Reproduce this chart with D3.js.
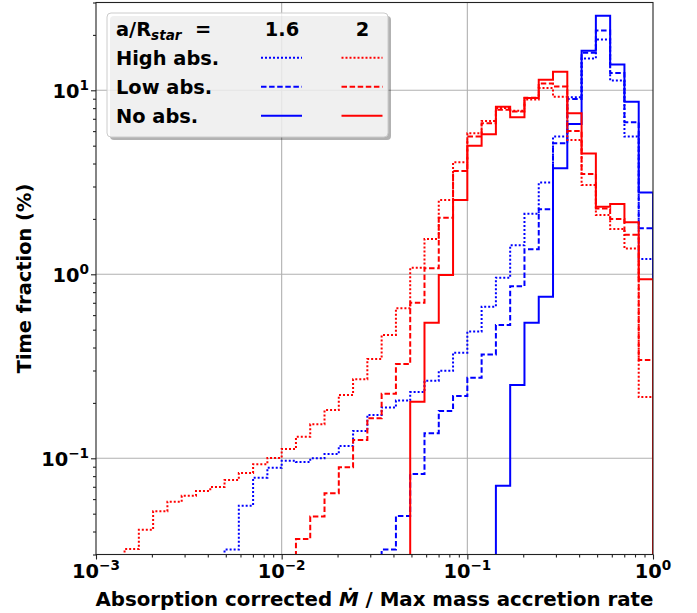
<!DOCTYPE html>
<html>
<head>
<meta charset="utf-8">
<script src="https://cdn.jsdelivr.net/npm/d3@7"></script>
<style>
body { margin: 0; background: #fff; }
svg { display: block; font-family: "DejaVu Sans", sans-serif; font-weight: bold; }
</style>
</head>
<body>
<div id="chart"></div>
<script>
// histogram bins: 40 log-spaced edges between 1e-3 and 1 (39 bins)
let binCount = 39;
let binEdges = d3.range(binCount + 1).map(i => Math.pow(10, -3 + 3 * i / binCount));

// a/R_star = 1.6 (blue), values in % per bin, starting at bin index *Start
let blueHighStart = 9;
let blueHigh = [0.0319, 0.0553, 0.0785, 0.0889, 0.097, 0.0955, 0.100, 0.1055, 0.1166, 0.1407,
	0.172, 0.189, 0.206, 0.229, 0.264, 0.299, 0.375, 0.488, 0.667, 0.958,
	1.44, 2.13, 3.15, 5.60, 9.16, 14.9, 18.9, 11.3, 5.60, 1.21];
let blueLowStart = 20;
let blueLow = [0.0319, 0.0486, 0.0822, 0.1368, 0.181, 0.218, 0.274, 0.367, 0.530, 0.86,
	1.37, 2.26, 5.15, 8.97, 16.0, 21.1, 12.4, 6.70, 1.78];
let blueNoStart = 28;
let blueNo = [0.071, 0.250, 0.546, 0.756, 3.77, 6.56, 16.4, 25.4, 13.8, 8.67, 2.78];

// a/R_star = 2 (red)
let redHighStart = 2;
let redHigh = [0.0321, 0.0409, 0.0515, 0.0581, 0.0626, 0.0665, 0.0699, 0.0762, 0.0832, 0.0928,
	0.1004, 0.1124, 0.131, 0.153, 0.183, 0.221, 0.269, 0.346, 0.468, 0.653,
	1.086, 1.556, 2.53, 4.06, 5.84, 6.81, 8.02, 7.75, 8.9, 10.3,
	9.23, 5.37, 3.06, 2.10, 1.76, 1.38, 0.215];
let redLowStart = 14;
let redLow = [0.0364, 0.0482, 0.0645, 0.0893, 0.1257, 0.165, 0.224, 0.325, 0.701, 1.078,
	2.03, 3.64, 5.60, 6.62, 7.83, 7.68, 9.1, 10.9, 10.5, 6.01,
	3.51, 2.28, 2.00, 1.64, 0.342];
let redNoStart = 22;
let redNo = [0.203, 0.546, 0.99, 2.53, 5.0, 5.77, 8.15, 7.13, 9.08, 11.4,
	12.6, 7.50, 4.54, 2.33, 2.41, 1.92, 0.94];

let ratios = ["1.6", "2"];
let absLabels = ["High abs.", "Low abs.", "No abs."];
let xMajor = [1e-3, 1e-2, 1e-1, 1e0];
let xMajorExp = ["\u22123", "\u22122", "\u22121", "0"];
let yMajor = [1e-1, 1e0, 1e1];
let yMajorExp = ["\u22121", "0", "1"];

let width = 697, height = 613;
let colors = {"1.6": "#0000ff", "2": "#ff0000"};
let dashes = {"High abs.": "2,2", "Low abs.": "5.5,2.6", "No abs.": null};

let series = [
	{ratio: "1.6", abs: "High abs.", start: blueHighStart, values: blueHigh},
	{ratio: "1.6", abs: "Low abs.", start: blueLowStart, values: blueLow},
	{ratio: "1.6", abs: "No abs.", start: blueNoStart, values: blueNo},
	{ratio: "2", abs: "High abs.", start: redHighStart, values: redHigh},
	{ratio: "2", abs: "Low abs.", start: redLowStart, values: redLow},
	{ratio: "2", abs: "No abs.", start: redNoStart, values: redNo}
];

let svg = d3.select("#chart").append("svg")
	.attr("width", width)
	.attr("height", height);

let x = d3.scaleLog().domain([1e-3, 1]).range([96, 653]);
let y = d3.scaleLog().domain([0.03, 30]).range([554.5, 2.5]);

// minor tick values
let xMinor = [];
let yMinor = [];
[-3, -2, -1].forEach(e => d3.range(2, 10).forEach(m => xMinor.push(m * Math.pow(10, e))));
[-2, -1, 0, 1].forEach(e => d3.range(2, 10).forEach(m => {
	let v = m * Math.pow(10, e);
	if (v >= 0.03 && v <= 30) yMinor.push(v);
}));

// grid
svg.append("g").selectAll("line")
	.data(xMajor.slice(1, 3))
	.enter().append("line")
	.attr("x1", d => x(d)).attr("x2", d => x(d))
	.attr("y1", y.range()[0]).attr("y2", y.range()[1])
	.attr("stroke", "#b0b0b0").attr("stroke-width", 1.1);
svg.append("g").selectAll("line")
	.data(yMajor)
	.enter().append("line")
	.attr("x1", x.range()[0]).attr("x2", x.range()[1])
	.attr("y1", d => y(d)).attr("y2", d => y(d))
	.attr("stroke", "#b0b0b0").attr("stroke-width", 1.1);

// histogram steps
svg.append("clipPath").attr("id", "plot-clip")
	.append("rect")
	.attr("x", x.range()[0]).attr("y", y.range()[1])
	.attr("width", x.range()[1] - x.range()[0])
	.attr("height", y.range()[0] - y.range()[1]);

function stepPoints(s) {
	let base = y.range()[0] + 10;
	let pts = [[x(binEdges[s.start]), base]];
	s.values.forEach((v, k) => {
		let i = s.start + k;
		pts.push([x(binEdges[i]), y(v)]);
		pts.push([x(binEdges[i + 1]), y(v)]);
	});
	pts.push([x(binEdges[s.start + s.values.length]), base]);
	return pts;
}

svg.append("g").attr("clip-path", "url(#plot-clip)")
	.selectAll("path")
	.data(series)
	.enter().append("path")
	.attr("d", d => d3.line()(stepPoints(d)))
	.attr("fill", "none")
	.attr("stroke", d => colors[d.ratio])
	.attr("stroke-width", 2)
	.attr("stroke-dasharray", d => dashes[d.abs]);

// axes
let axisColor = "#222";
svg.append("g")
	.attr("transform", "translate(0," + y.range()[0] + ")")
	.call(d3.axisBottom(x).tickValues(xMajor).tickSize(5).tickFormat(""));
svg.append("g")
	.attr("transform", "translate(0," + y.range()[0] + ")")
	.call(d3.axisBottom(x).tickValues(xMinor).tickSize(3).tickFormat(""));
svg.append("g")
	.attr("transform", "translate(" + x.range()[0] + ",0)")
	.call(d3.axisLeft(y).tickValues(yMajor).tickSize(5).tickFormat(""));
svg.append("g")
	.attr("transform", "translate(" + x.range()[0] + ",0)")
	.call(d3.axisLeft(y).tickValues(yMinor).tickSize(3).tickFormat(""));
svg.selectAll(".domain").remove();
svg.selectAll(".tick line").attr("stroke", axisColor).attr("stroke-width", 1.1);

// frame
svg.append("rect")
	.attr("x", x.range()[0]).attr("y", y.range()[1])
	.attr("width", x.range()[1] - x.range()[0])
	.attr("height", y.range()[0] - y.range()[1])
	.attr("fill", "none").attr("stroke", axisColor).attr("stroke-width", 1.1);

// tick labels
let xLabels = svg.append("g").selectAll("text")
	.data(xMajor)
	.enter().append("text")
	.attr("x", d => x(d))
	.attr("y", 578)
	.attr("text-anchor", "middle")
	.attr("font-size", 19.4);
xLabels.append("tspan").text("10");
xLabels.append("tspan").attr("font-size", 13.6).attr("dy", -8).text((d, i) => xMajorExp[i]);

let yLabels = svg.append("g").selectAll("text")
	.data(yMajor)
	.enter().append("text")
	.attr("x", 89)
	.attr("y", d => y(d) + 8)
	.attr("text-anchor", "end")
	.attr("font-size", 19.4);
yLabels.append("tspan").text("10");
yLabels.append("tspan").attr("font-size", 13.6).attr("dy", -8).text((d, i) => yMajorExp[i]);

// axis titles
let xTitle = svg.append("text")
	.attr("x", (x.range()[0] + x.range()[1]) / 2)
	.attr("y", 606)
	.attr("text-anchor", "middle")
	.attr("font-size", 19.8);
xTitle.append("tspan").text("Absorption corrected ");
xTitle.append("tspan").attr("font-style", "italic").text("\u1E40");
xTitle.append("tspan").text(" / Max mass accretion rate");

svg.append("text")
	.attr("transform", "translate(31," + (y.range()[0] + y.range()[1]) / 2 + ") rotate(-90)")
	.attr("text-anchor", "middle")
	.attr("font-size", 19.4)
	.text("Time fraction (%)");

// legend
let legend = svg.append("g");
legend.append("rect")
	.attr("x", 110).attr("y", 16)
	.attr("width", 281).attr("height", 124)
	.attr("rx", 4)
	.attr("fill", "rgba(0,0,0,0.3)");
legend.append("rect")
	.attr("x", 107).attr("y", 13)
	.attr("width", 281).attr("height", 124)
	.attr("rx", 4)
	.attr("fill", "rgba(255,255,255,0.8)")
	.attr("stroke", "#cccccc").attr("stroke-width", 1);

let header = legend.append("text")
	.attr("x", 116).attr("y", 36)
	.attr("font-size", 19.4);
header.append("tspan").text("a/R");
header.append("tspan").attr("font-size", 13.6).attr("font-style", "italic").attr("dy", 4).text("star");
legend.append("text")
	.attr("x", 195).attr("y", 36)
	.attr("font-size", 19.4)
	.text("=");

let colX = {"1.6": 282, "2": 362.5};
legend.selectAll(".col-head")
	.data(ratios)
	.enter().append("text")
	.attr("x", d => colX[d]).attr("y", 36)
	.attr("text-anchor", "middle")
	.attr("font-size", 19.4)
	.text(d => d);

absLabels.forEach((lab, r) => {
	let base = 65 + r * 29;
	legend.append("text")
		.attr("x", 116).attr("y", base)
		.attr("font-size", 19.4)
		.text(lab);
	ratios.forEach(rt => {
		legend.append("line")
			.attr("x1", colX[rt] - 21).attr("x2", colX[rt] + 20)
			.attr("y1", base - 7.3).attr("y2", base - 7.3)
			.attr("stroke", colors[rt])
			.attr("stroke-width", 2)
			.attr("stroke-dasharray", dashes[lab]);
	});
});
</script>
</body>
</html>
